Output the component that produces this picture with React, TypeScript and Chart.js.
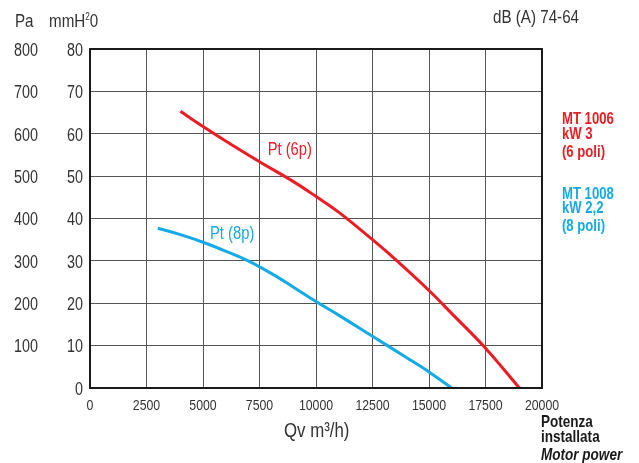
import React, { useEffect, useRef } from 'react';
import { Chart, registerables } from 'chart.js';

Chart.register(...registerables);

const FONT = "'Liberation Sans', Arial, sans-serif";
const NARROW = 0.82; // horizontal squeeze to imitate a condensed face

// Flow (m³/h) and total pressure (Pa)
const flow6p = [4000, 5000, 6000, 7500, 9000, 10000, 11000, 12500, 13500, 15000, 16000, 17500, 19000];
const pressure6p = [653, 617, 583, 534, 487, 452, 415, 350, 304, 230, 176, 94, 0];

const flow8p = [3000, 4000, 5000, 6000, 7000, 8000, 9000, 10000, 11000, 12500, 14000, 15000, 16000];
const pressure8p = [377, 362, 344, 323, 300, 271, 238, 204, 172, 122, 72, 38, 0];

const seriesNames = ['Pt (6p)', 'Pt (8p)'];
const seriesColors = ['#ec1c24', '#14aae6'];
const labelAnchors = [
  { x: 7860, y: 550 },
  { x: 5310, y: 352 },
];

const xMin = 0;
const xMax = 20000;
const xStep = 2500;
const paMax = 800;
const paStep = 100;
const mmMax = 80;
const mmStep = 10;

const xTitle = 'Qv m³/h)';
const unitPa = 'Pa';
const unitMm = 'mmH';
const noise = 'dB (A) 74-64';
const motor6 = ['MT 1006', 'kW 3', '(6 poli)'];
const motor8 = ['MT 1008', 'kW 2,2', '(8 poli)'];
const powerLabel = ['Potenza', 'installata', 'Motor power'];

const toPoints = (xs: number[], ys: number[]) => xs.map((x, i) => ({ x, y: ys[i] }));

function narrowText(ctx: any, text: string, x: number, y: number, font: string, color: string, align: string = 'left', baseline: string = 'alphabetic') {
  ctx.save();
  ctx.font = font;
  ctx.fillStyle = color;
  ctx.textAlign = align;
  ctx.textBaseline = baseline;
  ctx.translate(x, y);
  ctx.scale(NARROW, 1);
  ctx.fillText(text, 0, 0);
  const w = ctx.measureText(text).width * NARROW;
  ctx.restore();
  return w;
}

const annotations = {
  id: 'annotations',
  afterDraw(chart: any) {
    const { ctx, chartArea } = chart;
    const xs = chart.scales.x;
    const ys = chart.scales.y;
    const ys2 = chart.scales.y2;
    ctx.save();
    // frame
    ctx.strokeStyle = '#1a1a1a';
    ctx.lineWidth = 2;
    ctx.strokeRect(chartArea.left, chartArea.top, chartArea.right - chartArea.left, chartArea.bottom - chartArea.top);
    ctx.restore();

    const tickColor = '#333';
    // tick labels, positioned by the library's scales
    xs.ticks.forEach((t: any) => {
      narrowText(ctx, String(t.value), xs.getPixelForValue(t.value), 410, `15px ${FONT}`, tickColor, 'center');
    });
    ys.ticks.forEach((t: any) => {
      if (t.value === 0) return;
      narrowText(ctx, String(t.value), 38, ys.getPixelForValue(t.value) + 2, `17.5px ${FONT}`, tickColor, 'right', 'middle');
    });
    ys2.ticks.forEach((t: any) => {
      narrowText(ctx, String(t.value), 83, ys2.getPixelForValue(t.value) + 2, `17.5px ${FONT}`, tickColor, 'right', 'middle');
    });

    // curve labels
    seriesNames.forEach((name, i) => {
      narrowText(ctx, name, xs.getPixelForValue(labelAnchors[i].x), ys.getPixelForValue(labelAnchors[i].y), `18px ${FONT}`, seriesColors[i]);
    });

    // units top-left
    narrowText(ctx, unitPa, 15, 27, `18.5px ${FONT}`, tickColor);
    const wm = narrowText(ctx, unitMm, 49, 27, `18.5px ${FONT}`, tickColor);
    const w2 = narrowText(ctx, '2', 49 + wm, 20, `10px ${FONT}`, tickColor);
    narrowText(ctx, '0', 49 + wm + w2, 27, `18.5px ${FONT}`, tickColor);

    // noise
    narrowText(ctx, noise, 493, 23, `18.5px ${FONT}`, tickColor);

    // x title
    narrowText(ctx, xTitle, 284, 437, `20.5px ${FONT}`, tickColor);

    // motor labels
    const b6 = [124, 139, 157];
    const b8 = [199, 213, 231];
    motor6.forEach((t, i) => narrowText(ctx, t, 562, b6[i], `bold 16px ${FONT}`, seriesColors[0]));
    motor8.forEach((t, i) => narrowText(ctx, t, 562, b8[i], `bold 16px ${FONT}`, seriesColors[1]));

    // power label
    narrowText(ctx, powerLabel[0], 541, 427, `bold 16.5px ${FONT}`, '#1a1a1a');
    narrowText(ctx, powerLabel[1], 541, 442, `bold 16.5px ${FONT}`, '#1a1a1a');
    narrowText(ctx, powerLabel[2], 541, 460, `italic bold 16.5px ${FONT}`, '#1a1a1a');
  },
};

export default function App() {
  const ref = useRef<HTMLCanvasElement | null>(null);

  useEffect(() => {
    if (!ref.current) return;
    const chart = new Chart(ref.current, {
      type: 'line',
      data: {
        datasets: [
          {
            label: seriesNames[0],
            data: toPoints(flow6p, pressure6p),
            borderColor: seriesColors[0],
            borderWidth: 3,
            pointRadius: 0,
            tension: 0.4,
            yAxisID: 'y',
          },
          {
            label: seriesNames[1],
            data: toPoints(flow8p, pressure8p),
            borderColor: seriesColors[1],
            borderWidth: 3,
            pointRadius: 0,
            tension: 0.4,
            yAxisID: 'y',
          },
        ],
      },
      options: {
        responsive: false,
        animation: false,
        devicePixelRatio: 1,
        layout: { padding: { top: 49, right: 97, left: 0, bottom: 0 } },
        plugins: { legend: { display: false }, tooltip: { enabled: false } },
        scales: {
          x: {
            type: 'linear',
            min: xMin,
            max: xMax,
            ticks: { stepSize: xStep, display: false, autoSkip: false },
            grid: { color: '#555', lineWidth: 1, drawTicks: false },
            border: { display: false },
            afterFit: (s: any) => { s.height = 75; },
          },
          y: {
            type: 'linear',
            position: 'left',
            weight: 1,
            min: 0,
            max: paMax,
            ticks: { stepSize: paStep, display: false },
            grid: { display: false, drawTicks: false },
            border: { display: false },
            afterFit: (s: any) => { s.width = 38; },
          },
          y2: {
            type: 'linear',
            position: 'left',
            weight: 0,
            min: 0,
            max: mmMax,
            ticks: { stepSize: mmStep, display: false },
            grid: { color: '#555', lineWidth: 1, drawTicks: false },
            border: { display: false },
            afterFit: (s: any) => { s.width = 52; },
          },
        },
      },
      plugins: [annotations],
    });
    return () => chart.destroy();
  }, []);

  return (
    <div style={{ position: 'absolute', left: 0, top: 0, width: 639, height: 463, background: '#fff' }}>
      <canvas ref={ref} width={639} height={463} style={{ display: 'block' }} />
    </div>
  );
}
